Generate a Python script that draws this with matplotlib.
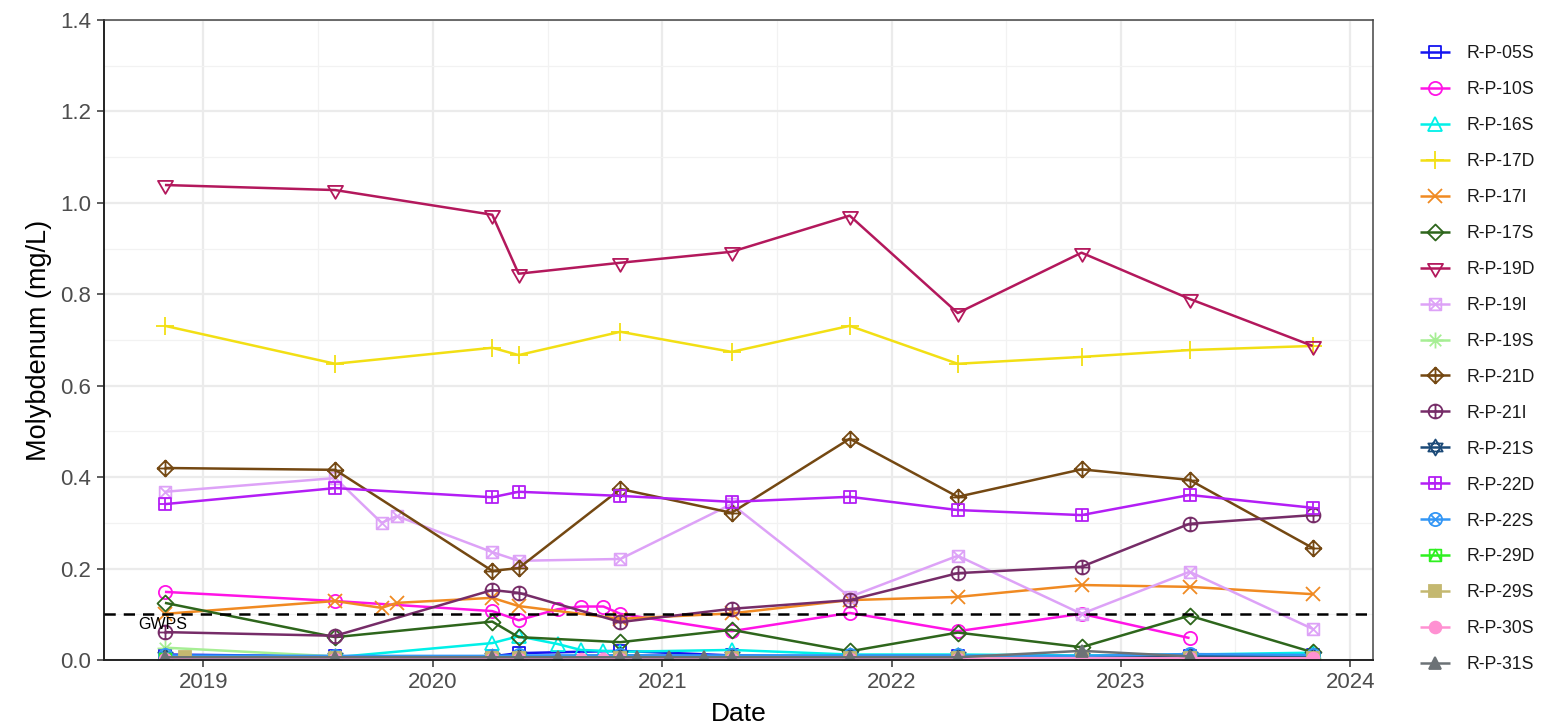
import numpy as np
import pandas as pd
import matplotlib
matplotlib.use("Agg")
import matplotlib.pyplot as plt
from matplotlib.path import Path
from matplotlib.ticker import FormatStrFormatter

plt.rcParams['font.family'] = ['Liberation Sans', 'DejaVu Sans']

# ---- sampling dates ----
D_STD = ["2018-11-01", "2019-07-30", "2020-04-05", "2020-05-17", "2020-10-26",
         "2021-04-21", "2021-10-26", "2022-04-16", "2022-10-30", "2023-04-20",
         "2023-11-02"]

# ---- molybdenum concentrations (mg/L) by well ----
rp05s_dates = D_STD
rp05s = [0.012, 0.008, 0.008, 0.015, 0.020, 0.010, 0.008, 0.008, 0.006, 0.008, 0.010]

rp10s_dates = ["2018-11-01", "2019-07-30", "2020-04-05", "2020-05-17", "2020-07-18",
               "2020-08-24", "2020-09-29", "2020-10-26", "2021-04-21", "2021-10-26",
               "2022-04-16", "2022-10-30", "2023-04-20"]
rp10s = [0.149, 0.129, 0.107, 0.087, 0.111, 0.117, 0.117, 0.101, 0.063, 0.103,
         0.063, 0.101, 0.048]

rp16s_dates = ["2018-11-01", "2019-07-30", "2020-04-05", "2020-05-17", "2020-07-18",
               "2020-08-24", "2020-09-29", "2020-10-26", "2021-04-21", "2021-10-26",
               "2022-04-16", "2022-10-30", "2023-04-20", "2023-11-02"]
rp16s = [0.008, 0.006, 0.037, 0.052, 0.035, 0.022, 0.020, 0.018, 0.022, 0.012,
         0.012, 0.010, 0.012, 0.016]

rp17d_dates = D_STD
rp17d = [0.731, 0.648, 0.683, 0.667, 0.718, 0.674, 0.731, 0.648, 0.663, 0.678, 0.687]

rp17i_dates = ["2018-11-01", "2019-07-30", "2019-10-12", "2019-11-05", "2020-04-05",
               "2020-05-17", "2020-10-26", "2021-04-21", "2021-10-26", "2022-04-16",
               "2022-10-30", "2023-04-20", "2023-11-02"]
rp17i = [0.101, 0.129, 0.114, 0.125, 0.136, 0.118, 0.090, 0.102, 0.131, 0.138,
         0.164, 0.160, 0.144]

rp17s_dates = D_STD
rp17s = [0.125, 0.050, 0.084, 0.050, 0.039, 0.066, 0.019, 0.060, 0.028, 0.097, 0.017]

rp19d_dates = D_STD
rp19d = [1.039, 1.028, 0.974, 0.845, 0.869, 0.893, 0.972, 0.759, 0.891, 0.790, 0.687]

rp19i_dates = ["2018-11-01", "2019-07-30", "2019-10-12", "2019-11-05", "2020-04-05",
               "2020-05-17", "2020-10-26", "2021-04-21", "2021-10-26", "2022-04-16",
               "2022-10-30", "2023-04-20", "2023-11-02"]
rp19i = [0.368, 0.398, 0.300, 0.315, 0.236, 0.217, 0.221, 0.341, 0.138, 0.228,
         0.101, 0.193, 0.068]

rp19s_dates = D_STD
rp19s = [0.027, 0.008, 0.005, 0.005, 0.005, 0.005, 0.005, 0.005, 0.005, 0.005, 0.005]

rp21d_dates = D_STD
rp21d = [0.420, 0.416, 0.195, 0.201, 0.374, 0.322, 0.484, 0.357, 0.417, 0.394, 0.245]

rp21i_dates = D_STD
rp21i = [0.061, 0.053, 0.153, 0.147, 0.083, 0.112, 0.131, 0.190, 0.204, 0.298, 0.317]

rp21s_dates = D_STD
rp21s = [0.008, 0.007, 0.007, 0.008, 0.010, 0.008, 0.008, 0.008, 0.007, 0.008, 0.008]

rp22d_dates = D_STD
rp22d = [0.341, 0.376, 0.356, 0.368, 0.359, 0.346, 0.357, 0.328, 0.317, 0.361, 0.333]

rp22s_dates = D_STD
rp22s = [0.010, 0.009, 0.009, 0.010, 0.010, 0.010, 0.010, 0.010, 0.009, 0.013, 0.011]

rp29d_dates = D_STD
rp29d = [0.003, 0.003, 0.003, 0.003, 0.003, 0.003, 0.003, 0.003, 0.003, 0.003, 0.003]

rp29s_dates = ["2018-12-03", "2019-07-30", "2020-04-05", "2020-05-17", "2020-10-26",
               "2021-04-21", "2021-10-26", "2022-04-16", "2022-10-30", "2023-04-20",
               "2023-11-02"]
rp29s = [0.006, 0.004, 0.004, 0.004, 0.004, 0.004, 0.004, 0.004, 0.004, 0.004, 0.004]

rp30s_dates = ["2018-11-01", "2019-07-30", "2020-04-05", "2020-05-17", "2020-08-24",
               "2020-09-29", "2020-10-26", "2021-04-21", "2021-10-26", "2022-04-16",
               "2022-10-30", "2023-04-20", "2023-11-02"]
rp30s = [0.003, 0.003, 0.003, 0.003, 0.003, 0.003, 0.003, 0.003, 0.003, 0.003,
         0.004, 0.004, 0.004]

rp31s_dates = ["2018-11-01", "2019-07-30", "2020-04-05", "2020-05-17", "2020-07-18",
               "2020-10-26", "2020-11-22", "2021-01-12", "2021-03-08", "2021-04-21",
               "2021-10-26", "2022-04-16", "2022-10-30", "2023-04-20"]
rp31s = [0.006, 0.006, 0.006, 0.006, 0.006, 0.006, 0.006, 0.006, 0.006, 0.006,
         0.006, 0.006, 0.020, 0.008]

gwps = 0.1

# ---- marker shapes (R-style plotting symbols) ----
def seg(p, q):
    return Path([p, q], [Path.MOVETO, Path.LINETO])

def poly(pts):
    return Path(list(pts) + [pts[0]],
                [Path.MOVETO] + [Path.LINETO] * (len(pts) - 1) + [Path.CLOSEPOLY])

circ = Path.unit_circle()
sq = poly([(-0.8, -0.8), (0.8, -0.8), (0.8, 0.8), (-0.8, 0.8)])
dia = poly([(0, -1), (1, 0), (0, 1), (-1, 0)])
tri_dn = poly([(-0.9, 0.55), (0.9, 0.55), (0, -1)])
pad = seg((-1, -1), (-1, -1))  # keeps squares at the same scale as circles

m_sq = Path.make_compound_path(sq, pad)
m_sqx = Path.make_compound_path(sq, seg((-0.8, -0.8), (0.8, 0.8)),
                                seg((-0.8, 0.8), (0.8, -0.8)), pad)
m_ast = Path.make_compound_path(seg((-1, 0), (1, 0)), seg((0, -1), (0, 1)),
                                seg((-0.72, -0.72), (0.72, 0.72)),
                                seg((-0.72, 0.72), (0.72, -0.72)))
m_diap = Path.make_compound_path(dia, seg((-1, 0), (1, 0)), seg((0, -1), (0, 1)))
m_circp = Path.make_compound_path(circ, seg((-1, 0), (1, 0)), seg((0, -1), (0, 1)))
m_star = Path.make_compound_path(poly([(-0.9, -0.5), (0.9, -0.5), (0, 1)]),
                                 poly([(-0.9, 0.5), (0.9, 0.5), (0, -1)]))
m_sqp = Path.make_compound_path(sq, seg((-0.8, 0), (0.8, 0)), seg((0, -0.8), (0, 0.8)), pad)
m_circx = Path.make_compound_path(circ, seg((-0.71, -0.71), (0.71, 0.71)),
                                  seg((-0.71, 0.71), (0.71, -0.71)))
m_sqtri = Path.make_compound_path(sq, Path([(-0.8, -0.8), (0, 0.8), (0.8, -0.8)],
                                           [Path.MOVETO, Path.LINETO, Path.LINETO]), pad)

series = [
    ("R-P-05S", rp05s_dates, rp05s, "#1414F0", m_sq, False, 10.5),
    ("R-P-10S", rp10s_dates, rp10s, "#FF14E6", "o", False, 9.5),
    ("R-P-16S", rp16s_dates, rp16s, "#00F0E8", "^", False, 10.5),
    ("R-P-17D", rp17d_dates, rp17d, "#F2DF14", "+", False, 12.5),
    ("R-P-17I", rp17i_dates, rp17i, "#F08A22", "x", False, 10.0),
    ("R-P-17S", rp17s_dates, rp17s, "#2E661C", dia, False, 11.5),
    ("R-P-19D", rp19d_dates, rp19d, "#B3185C", tri_dn, False, 12.0),
    ("R-P-19I", rp19i_dates, rp19i, "#DDA2F7", m_sqx, False, 10.5),
    ("R-P-19S", rp19s_dates, rp19s, "#A6EE94", m_ast, False, 11.5),
    ("R-P-21D", rp21d_dates, rp21d, "#744812", m_diap, False, 11.5),
    ("R-P-21I", rp21i_dates, rp21i, "#762C68", m_circp, False, 10.0),
    ("R-P-21S", rp21s_dates, rp21s, "#1C4A78", m_star, False, 11.5),
    ("R-P-22D", rp22d_dates, rp22d, "#B31EF5", m_sqp, False, 10.5),
    ("R-P-22S", rp22s_dates, rp22s, "#3396F5", m_circx, False, 9.5),
    ("R-P-29D", rp29d_dates, rp29d, "#2EF020", m_sqtri, False, 10.5),
    ("R-P-29S", rp29s_dates, rp29s, "#C4B870", "s", True, 8.5),
    ("R-P-30S", rp30s_dates, rp30s, "#FF91D2", "o", True, 8.5),
    ("R-P-31S", rp31s_dates, rp31s, "#6C7276", "^", True, 9.0),
]

fig = plt.figure(figsize=(15.43, 7.26), dpi=100)
ax = fig.add_axes([104 / 1543, 1 - 660 / 726, (1373 - 104) / 1543, (660 - 20) / 726])

for label, dates, vals, col, mk, filled, ms in series:
    x = pd.to_datetime(dates)
    ax.plot(x, vals, color=col, lw=1.8, marker=mk, markersize=ms,
            markerfacecolor=col if filled else "none", markeredgecolor=col,
            markeredgewidth=1.3, label=label, solid_joinstyle="round",
            solid_capstyle="butt")

ax.axhline(gwps, color="black", lw=1.8, ls=(0, (4.5, 3.2)), zorder=5)
ax.text(pd.Timestamp("2018-10-28"), 0.078, "GWPS", ha="center", va="center",
        fontsize=11.5, color="black")

# ---- axes, ticks and grid ----
years = pd.to_datetime([f"{y}-01-01" for y in range(2019, 2025)])
ax.set_xticks(years)
ax.set_xticklabels([str(y) for y in range(2019, 2025)])
ax.set_xticks(pd.to_datetime([f"{y}-07-02" for y in range(2019, 2024)]), minor=True)
ax.set_xlim(pd.Timestamp("2018-07-27"), pd.Timestamp("2024-02-06"))

ax.set_yticks(np.arange(0, 1.41, 0.2))
ax.set_yticks(np.arange(0.1, 1.4, 0.2), minor=True)
ax.yaxis.set_major_formatter(FormatStrFormatter("%.1f"))
ax.set_ylim(0, 1.4)

ax.grid(which="major", color="#EBEBEB", lw=1.6)
ax.grid(which="minor", color="#F2F2F2", lw=0.9)
ax.set_axisbelow(True)

ax.tick_params(which="major", length=5, width=1.1, color="#333333",
               labelsize=16, labelcolor="#4D4D4D", pad=4)
ax.tick_params(which="minor", length=0)

for side in ["left", "bottom"]:
    ax.spines[side].set_color("#222222")
    ax.spines[side].set_linewidth(1.4)
for side in ["top", "right"]:
    ax.spines[side].set_color("#444444")
    ax.spines[side].set_linewidth(1.1)

ax.set_xlabel("Date", fontsize=19, color="black", labelpad=6)
ax.set_ylabel("Molybdenum (mg/L)", fontsize=19.5, color="black", labelpad=6)

leg = ax.legend(loc="upper left", bbox_to_anchor=(1420 / 1543, 1 - 45 / 726),
                bbox_transform=fig.transFigure, frameon=False, fontsize=12.7,
                handlelength=1.7, handletextpad=0.95, labelspacing=1.075,
                borderpad=0, borderaxespad=0, numpoints=1)
for t in leg.get_texts():
    t.set_color("#1A1A1A")

fig.savefig("out.png", dpi=100)
